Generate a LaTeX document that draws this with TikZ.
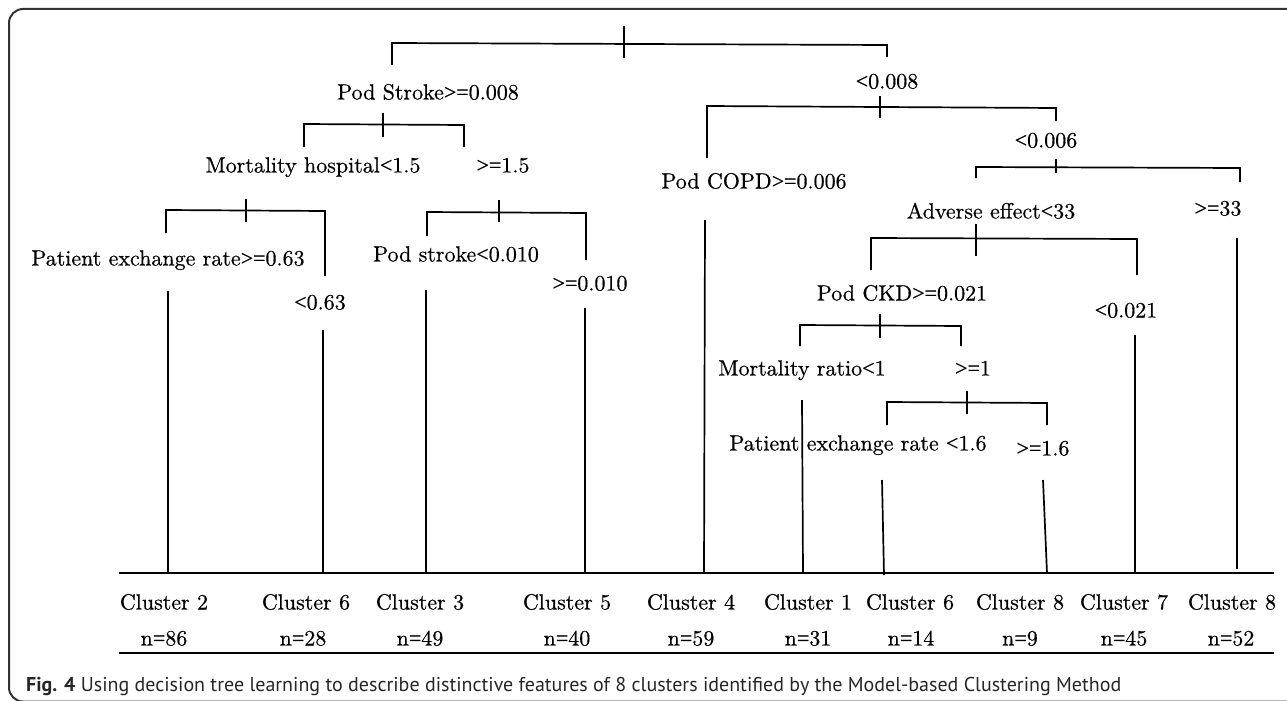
\documentclass[tikz,border=0pt]{standalone}
\usepackage{fontspec}
\newfontfamily\capfont{PT Sans}
\newfontfamily\treefont{lmroman10-regular.otf}[FakeBold=0.5]
\newfontfamily\symfont{Liberation Serif}[FakeBold=0.5]
\newcommand\rge{{\symfont>=}}
\newcommand\rlt{{\symfont<}}
\begin{document}
\begin{tikzpicture}[x=1pt,y=-1pt,
  lbl/.style={anchor=base,inner sep=0pt,font=\treefont\fontsize{22}{26}\selectfont},
  ln/.style={line width=1.7pt,black},
  frm/.style={line width=2pt,draw=black!80,rounded corners=14pt},
  rule/.style={line width=2pt,black}]
\useasboundingbox (0,0) rectangle (1287,701);
\begin{scope}
\clip (0,0) rectangle (1287,701);
\draw[frm] (1330,9) -- (9,9) -- (9,701.5) -- (1330,701.5);
\end{scope}

% ---- labels
\node[lbl] (s1) at (428,99.5) {Pod Stroke\rge0.008};
\node[lbl] (s2) at (887,88.5) {\rlt0.008};
\node[lbl] (m1) at (313,172.5) {Mortality hospital\rlt1.5};
\node[lbl] (m2) at (503,172.5) {\rge1.5};
\node[lbl] (p1) at (168,265.5) {Patient exchange rate\rge0.63};
\node[lbl] (p2) at (320,309.5) {\rlt0.63};
\node[lbl] (ps1) at (456,261.5) {Pod stroke\rlt0.010};
\node[lbl] (ps2) at (590,290.5) {\rge0.010};
\node[lbl] (c1) at (754,188.5) {Pod COPD\rge0.006};
\node[lbl] (c2) at (1046,147.5) {\rlt0.006};
\node[lbl] (a1) at (991,218.5) {Adverse effect\rlt33};
\node[lbl] (a2) at (1218,215.5) {\rge33};
\node[lbl] (k1) at (902,300.5) {Pod CKD\rge0.021};
\node[lbl] (k2) at (1126,317.5) {\rlt0.021};
\node[lbl] (r1) at (802,375.5) {Mortality ratio\rlt1};
\node[lbl] (r2) at (973,375.5) {\rge1};
\node[lbl] (e1) at (858,450.5) {Patient exchange rate \rlt1.6};
\node[lbl] (e2) at (1043,455.5) {\rge1.6};

% ---- brackets: left drop, bar, right drop, tick
% root
\draw[ln] (392,65) coordinate (b1a) -- (392,43) coordinate (b1l) -- (887,45) coordinate (b1r) -- (887,57) coordinate (b1b);
\draw[ln] (624,26) coordinate (b1t) -- (624,58) coordinate (b1u);
% Pod Stroke >= 0.008
\draw[ln] (304,147) coordinate (b2a) -- (304,124) coordinate (b2l) -- (464,125) coordinate (b2r) -- (464,147) coordinate (b2b);
\draw[ln] (383,113) coordinate (b2t) -- (383,137) coordinate (b2u);
% Mortality hospital < 1.5
\draw[ln] (166,233) coordinate (b3a) -- (166,210) coordinate (b3l) -- (325,211) coordinate (b3r) -- (325,276) coordinate (b3b);
\draw[ln] (246,199) coordinate (b3t) -- (246,222) coordinate (b3u);
% >= 1.5
\draw[ln] (427,236) coordinate (b4a) -- (427,212) coordinate (b4l) -- (586,213) coordinate (b4r) -- (586,260) coordinate (b4b);
\draw[ln] (499,200) coordinate (b4t) -- (499,222) coordinate (b4u);
% < 0.008
\draw[ln] (707,158) coordinate (b5a) -- (707,106) coordinate (b5l) -- (1056,108) coordinate (b5r) -- (1056,121) coordinate (b5b);
\draw[ln] (880,96) coordinate (b5t) -- (880,118) coordinate (b5u);
% < 0.006
\draw[ln] (976,178) coordinate (b6a) -- (976,167) coordinate (b6l) -- (1240,168) coordinate (b6r) -- (1240,182) coordinate (b6b);
\draw[ln] (1056,159) coordinate (b6t) -- (1056,173) coordinate (b6u);
% Adverse effect < 33
\draw[ln] (871,270) coordinate (b7a) -- (871,238) coordinate (b7l) -- (1137,239) coordinate (b7r) -- (1137,275) coordinate (b7b);
\draw[ln] (976,224) coordinate (b7t) -- (976,256) coordinate (b7u);
% Pod CKD >= 0.021
\draw[ln] (800,346) coordinate (b8a) -- (800,325) coordinate (b8l) -- (961,326) coordinate (b8r) -- (961,346) coordinate (b8b);
\draw[ln] (880,314) coordinate (b8t) -- (880,338) coordinate (b8u);
% >= 1
\draw[ln] (887,425) coordinate (b9a) -- (887,402) coordinate (b9l) -- (1047,403) coordinate (b9r) -- (1047,425) coordinate (b9b);
\draw[ln] (967,391) coordinate (b9t) -- (967,414) coordinate (b9u);

% ---- axis lines
\coordinate (axl) at (119,573);
\coordinate (axr) at (1274,573);
\coordinate (rul) at (119,653);
\coordinate (rur) at (1274,653);
\draw[rule] (axl) -- (axr);
\draw[rule] (rul) -- (rur);

% ---- leaves
\draw[ln] (168,291) coordinate (l1) -- (168,573) coordinate (f1);
\draw[ln] (323,330) coordinate (l2) -- (323,573) coordinate (f2);
\draw[ln] (426,290) coordinate (l3) -- (426,573) coordinate (f3);
\draw[ln] (585,308) coordinate (l4) -- (585,573) coordinate (f4);
\draw[ln] (705,220) coordinate (l5) -- (704,573) coordinate (f5);
\draw[ln] (802,400) coordinate (l6) -- (803,573) coordinate (f6);
\draw[ln] (882,480) coordinate (l7) -- (884,575) coordinate (f7);
\draw[ln] (1043,480) coordinate (l8) -- (1047,573) coordinate (f8);
\draw[ln] (1135,335) coordinate (l9) -- (1135,573) coordinate (f9);
\draw[ln] (1237,238) coordinate (l10) -- (1237,569) coordinate (f10);

% ---- cluster labels
\foreach \x/\c/\n/\nx [count=\i] in {164/2/86/164, 306/6/28/303, 420/3/49/420, 567/5/40/567, 691/4/59/691, 808/1/31/808, 910/6/14/911, 1020/8/9/1020, 1124/7/45/1124, 1232/8/52/1231}{
  \node[lbl] (cl\i) at (\x,609.5) {Cluster \c};
  \node[lbl] (nn\i) at (\nx,645.5) {n{\symfont=}\n};
}

% ---- caption
\node[anchor=base west,inner sep=0pt,text=black!85,font=\capfont\fontsize{20}{24}\selectfont] (cap) at (26,691)
  {\textbf{Fig. 4} Using decision tree learning to describe distinctive features of 8 clusters identified by the Model-based Clustering Method};
\end{tikzpicture}
\end{document}
